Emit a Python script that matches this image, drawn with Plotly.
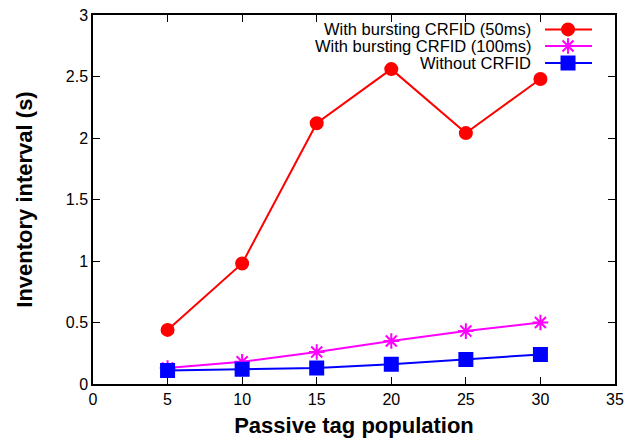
import plotly.graph_objects as go

tags = [5, 10, 15, 20, 25, 30]
burst_50 = [0.44, 0.98, 2.12, 2.56, 2.04, 2.48]
burst_100 = [0.13, 0.18, 0.26, 0.35, 0.43, 0.50]
without = [0.11, 0.12, 0.13, 0.16, 0.20, 0.24]

names = ["With bursting CRFID (50ms)", "With bursting CRFID (100ms)", "Without CRFID"]
colors = ["#ff0000", "#ff00ff", "#0000ff"]
symbols = ["circle", "asterisk-open", "square"]
sizes = [12, 13, 13]
series = [burst_50, burst_100, without]

FONT = "Liberation Sans, Arial, Helvetica, sans-serif"

fig = go.Figure()
for name, col, sym, sz, ys in zip(names, colors, symbols, sizes, series):
    fig.add_trace(go.Scatter(
        x=tags, y=ys, mode="lines+markers", name=name,
        line=dict(color=col, width=2),
        marker=dict(symbol=sym, size=sz, color=col, line=dict(color=col, width=2)),
        showlegend=False,
    ))

# custom gnuplot-style legend (text right, sample on the right)
leg_y = [0.961, 0.916, 0.870]
for name, col, sym, sz, ly in zip(names, colors, symbols, sizes, leg_y):
    fig.add_trace(go.Scatter(
        x=[0.866, 0.956], y=[ly, ly], mode="lines", xaxis="x2", yaxis="y2",
        line=dict(color=col, width=2), showlegend=False, hoverinfo="skip"))
    fig.add_trace(go.Scatter(
        x=[0.910], y=[ly], mode="markers", xaxis="x2", yaxis="y2",
        marker=dict(symbol=sym, size=sz, color=col, line=dict(color=col, width=2)),
        showlegend=False, hoverinfo="skip"))
    fig.add_annotation(x=0.841, y=ly, xref="x2", yref="y2", text=name,
                       showarrow=False, xanchor="right", yanchor="middle",
                       borderpad=0, font=dict(size=16.5, color="black", family=FONT))

axis_common = dict(
    showline=True, linecolor="black", linewidth=1.5, mirror="allticks",
    ticks="inside", ticklen=7, tickwidth=1, tickcolor="black",
    showgrid=False, zeroline=False, automargin=False,
    tickfont=dict(size=16, color="black", family=FONT),
)

fig.update_layout(
    width=627, height=438,
    margin=dict(l=93, r=12, t=15, b=54),
    paper_bgcolor="white", plot_bgcolor="white",
    font=dict(family=FONT, color="black"),
    xaxis=dict(range=[0, 35], dtick=5, tick0=0,
               title=dict(text="<b>Passive tag population</b>", font=dict(size=22, family=FONT), standoff=11),
               **axis_common),
    yaxis=dict(range=[0, 3], dtick=0.5, tick0=0,
               title=dict(text="<b>Inventory interval (s)</b>", font=dict(size=22, family=FONT), standoff=27),
               **axis_common),
    xaxis2=dict(range=[0, 1], overlaying="x", visible=False, domain=[0, 1]),
    yaxis2=dict(range=[0, 1], overlaying="y", visible=False),
)

fig.write_html("out.html")
